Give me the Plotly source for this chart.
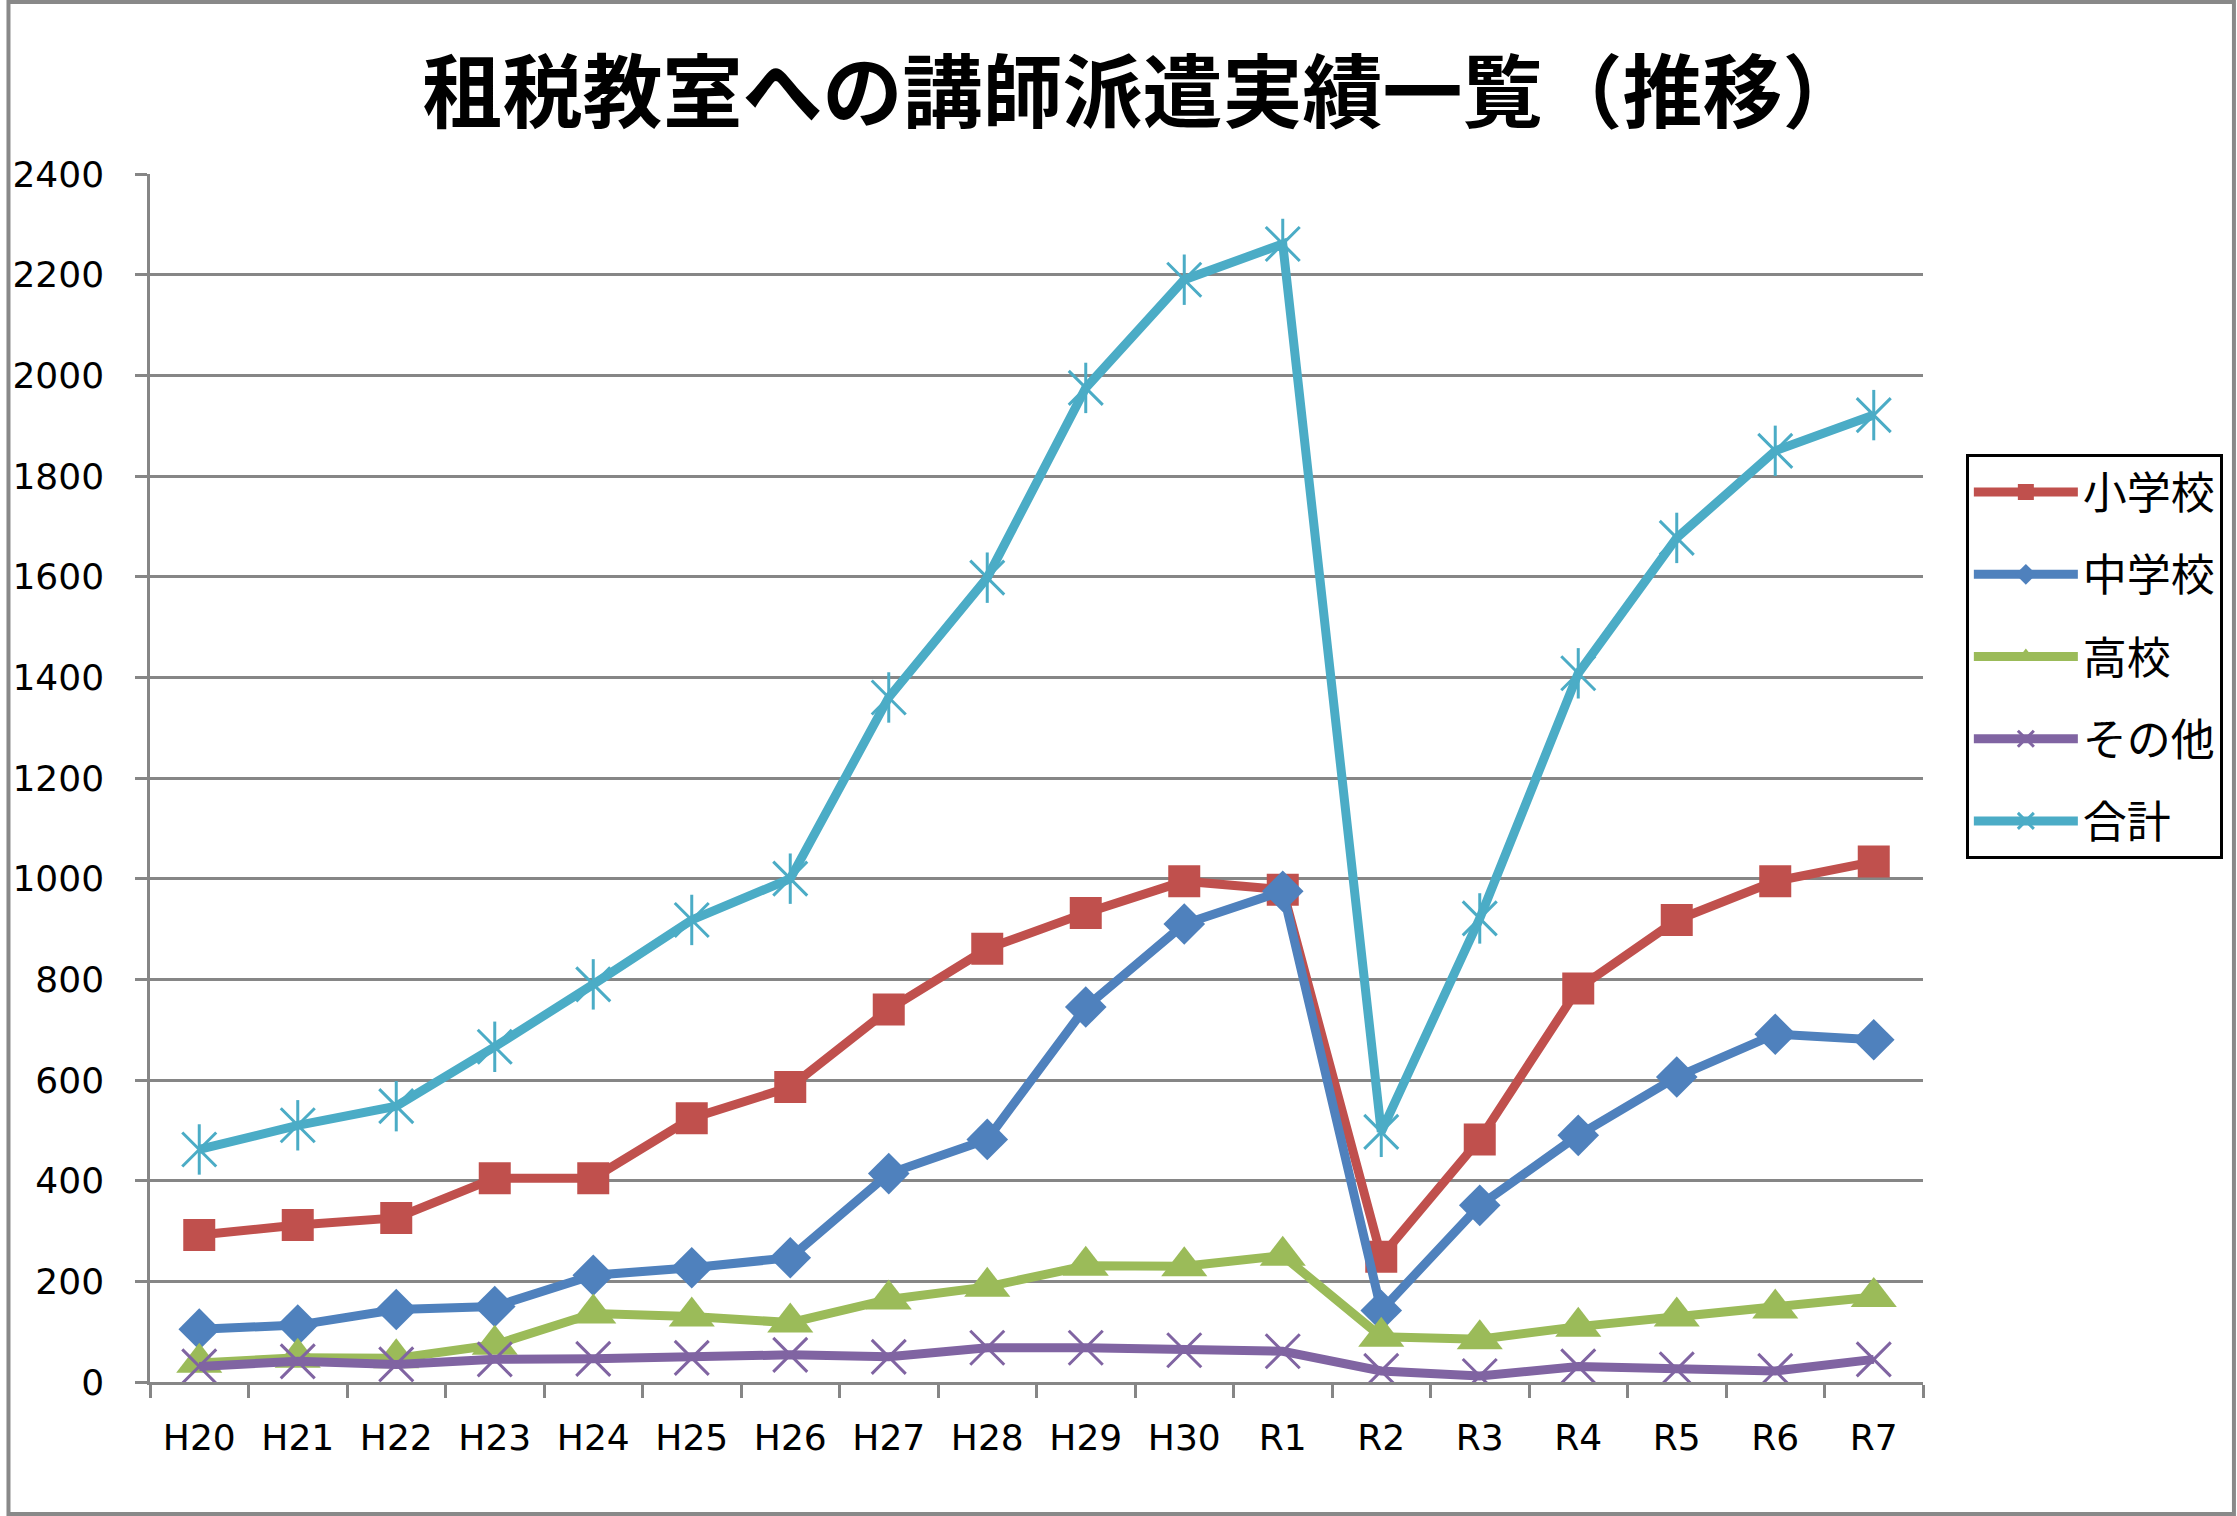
import plotly.graph_objects as go

categories = ["H20", "H21", "H22", "H23", "H24", "H25", "H26", "H27", "H28",
              "H29", "H30", "R1", "R2", "R3", "R4", "R5", "R6", "R7"]

elementary = [292, 312, 326, 405, 405, 524, 586, 740, 861, 932, 995, 978,
              249, 482, 782, 918, 995, 1034]
junior_high = [105, 113, 144, 150, 212, 227, 247, 414, 482, 745, 910, 975,
               142, 351, 490, 606, 691, 680]
high_school = [38, 48, 47, 74, 136, 130, 118, 164, 189, 231, 230, 251,
               90, 85, 110, 130, 146, 169]
other = [31, 41, 35, 45, 46, 48, 54, 50, 68, 68, 63, 61,
         22, 12, 31, 25, 22, 45]
total = [462, 510, 548, 666, 790, 918, 1000, 1360, 1598, 1975, 2190, 2261,
         497, 921, 1408, 1677, 1850, 1921]

names = ["小学校", "中学校", "高校", "その他", "合計"]
colors = ["#C0504D", "#4F81BD", "#9BBB59", "#8064A2", "#4BACC6"]
y_ticks = [0, 200, 400, 600, 800, 1000, 1200, 1400, 1600, 1800, 2000, 2200, 2400]

W, H = 2237, 1516
ML, MR, MT, MB = 144, 314, 174, 134
pw = W - ML - MR
ph = H - MT - MB

fig = go.Figure()

series = [elementary, junior_high, high_school, other, total]
symbols = ["square", "diamond", "triangle-up", "x-thin-open", "x-thin-open"]
sizes = [32, 32, 40, 34, 34]

for i, (vals, name, col, sym, sz) in enumerate(zip(series, names, colors, symbols, sizes)):
    fig.add_trace(go.Scatter(
        x=categories, y=vals, name=name, mode="lines+markers",
        legendgroup=name,
        line=dict(color=col, width=9),
        marker=dict(symbol=sym, size=sz, color=col,
                    line=dict(color=col, width=3 if "thin" in sym else 0)),
    ))

# vertical arm for the star marker of 合計
fig.add_trace(go.Scatter(
    x=categories, y=total, mode="markers", showlegend=False,
    marker=dict(symbol="line-ns-open", size=36, color=colors[4],
                line=dict(color=colors[4], width=3)),
    hoverinfo="skip",
))

grid_col = "#868686"

fig.update_layout(
    width=W, height=H,
    margin=dict(l=ML, r=MR, t=MT, b=MB),
    paper_bgcolor="white", plot_bgcolor="white",
    title=dict(text="<b>租税教室への講師派遣実績一覧（推移）</b>",
               font=dict(family="Noto Sans CJK JP", size=80, color="black"),
               x=0.5 + 24 / W, xref="container", xanchor="center",
               y=1 - 93 / H, yref="container", yanchor="middle"),
    xaxis=dict(type="category", range=[-0.5, 17.5],
               showline=True, linecolor=grid_col, linewidth=2.5,
               ticks="outside", tickson="boundaries", ticklen=13,
               tickcolor=grid_col, tickwidth=2.5,
               showgrid=False, zeroline=False,
               tickfont=dict(family="DejaVu Sans", size=36, color="black"),
               ticklabelstandoff=22),
    yaxis=dict(range=[0, 2400], tickvals=y_ticks,
               showline=True, linecolor=grid_col, linewidth=2.5,
               ticks="outside", ticklen=12, tickcolor=grid_col, tickwidth=2.5,
               showgrid=True, gridcolor=grid_col, gridwidth=2.5,
               zeroline=False,
               tickfont=dict(family="DejaVu Sans", size=36, color="black"),
               ticklabelstandoff=24),
    legend=dict(x=(1966 - ML) / pw, y=(H - MB - 454) / ph,
                xanchor="left", yanchor="top",
                bordercolor="black", borderwidth=3, bgcolor="white",
                font=dict(family="Noto Sans CJK JP", size=44, color="black"),
                traceorder="grouped", tracegroupgap=22,
                itemwidth=104, itemsizing="trace"),
    shapes=[dict(type="rect", xref="paper", yref="paper",
                 x0=(-ML + 2) / pw, x1=(W - ML - 2) / pw,
                 y0=(-MB + 2) / ph, y1=(H - MB - 2) / ph,
                 line=dict(color="#898989", width=4), layer="below")],
)

fig.write_html("out.html")
